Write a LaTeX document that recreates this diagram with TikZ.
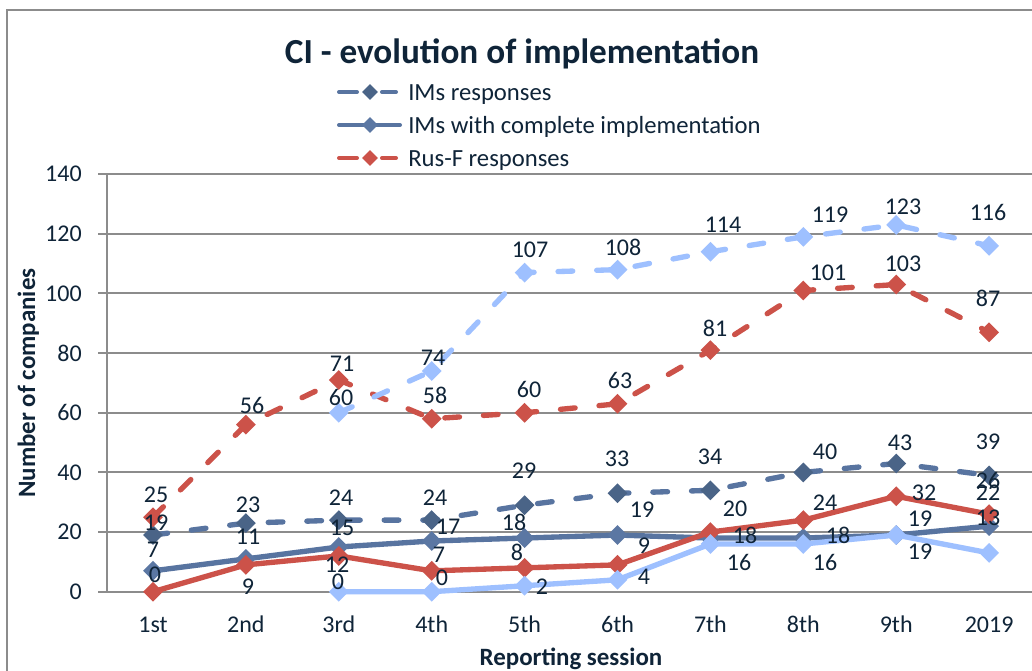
\documentclass[tikz,border=0pt]{standalone}
\usepackage{fontspec}
\setmainfont{Carlito}
\usetikzlibrary{shapes.geometric}
\definecolor{txt}{HTML}{0F2438}
\definecolor{gridc}{HTML}{8C8C8C}
\definecolor{cDl}{HTML}{5874A0}
\definecolor{cDm}{HTML}{4A6487}
\definecolor{cSl}{HTML}{5874A0}
\definecolor{cSm}{HTML}{5B77A3}
\definecolor{cR}{HTML}{CC5249}
\definecolor{cL}{HTML}{9EC0FF}
\tikzset{
  gridl/.style={draw=gridc, line width=1.5pt},
  frameline/.style={draw=gridc, line width=1.5pt},
  sln/.style={line width=4pt, line cap=round, line join=round},
  dln/.style={sln, dash pattern=on 11pt off 18pt},
  mk/.style={diamond, draw=none, minimum width=15pt, minimum height=15pt, inner sep=0pt},
  lmk/.style={diamond, draw=none, minimum width=12pt, minimum height=12pt, inner sep=0pt},
  lab/.style={text=txt, inner sep=0pt, font=\fontsize{18}{20}\selectfont},
  legtxt/.style={text=txt, inner sep=0pt, anchor=base west, font=\fontsize{18.5}{20}\selectfont},
  axtitle/.style={text=txt, inner sep=0pt, anchor=base, font=\bfseries\fontsize{18.7}{22}\selectfont},
  legln/.style={line width=3pt, line cap=round}
}
\begin{document}
\begin{tikzpicture}[x=0.75pt,y=-0.75pt]
\useasboundingbox (0,0) rectangle (1032,671);
\fill[white] (0,0) rectangle (1032,671);
% outer frame
\draw[frameline] (7,10) rectangle (1060,700);
% title
\node[text=txt, inner sep=0pt, anchor=base, font=\bfseries\fontsize{26.4}{30}\selectfont] (title) at (522,63) {CI - evolution of implementation};
% legend
\draw[legln, cDl] (339,92) -- (357,92) (382,92) -- (396,92);
\node[lmk, fill=cDm] (lg1) at (370,92) {};
\node[legtxt] (lt1) at (408,100) {IMs responses};
\draw[legln, cSl] (339,125) -- (400,125);
\node[lmk, fill=cSm] (lg2) at (370,125) {};
\node[legtxt] (lt2) at (408,133) {IMs with complete implementation};
\draw[legln, cR] (339,158) -- (357,158) (382,158) -- (396,158);
\node[lmk, fill=cR] (lg3) at (370,158) {};
\node[legtxt] (lt3) at (408,166) {Rus-F responses};
% grid and y axis
\foreach \k/\t in {0/0,1/20,2/40,3/60,4/80,5/100,6/120,7/140} {
  \draw[gridl] (98,{591.7-59.643*\k}) -- (1040,{591.7-59.643*\k});
  \node[lab, anchor=east] (yt\k) at (82,{591.7-59.643*\k}) {\t};
}
\draw[gridl] (106.5,174.2) -- (106.5,592.4);
% x tick labels
\foreach \t [count=\i] in {1st,2nd,3rd,4th,5th,6th,7th,8th,9th,2019}
  \node[lab, anchor=base] (xt\i) at ({153+92.9*(\i-1)},632) {\t};
% axis titles
\node[axtitle] (xtitle) at (571,665) {Reporting session};
\node[axtitle, rotate=90] (ytitle) at (35,383) {Number of companies};
% series coordinates
\foreach \v [count=\i] in {19,23,24,24,29,33,34,40,43,39}
  \coordinate (D\i) at ({153+92.9*(\i-1)},{591.7-2.9821*\v});
\foreach \v [count=\i] in {7,11,15,17,18,19,18,18,19,22}
  \coordinate (S\i) at ({153+92.9*(\i-1)},{591.7-2.9821*\v});
\foreach \v [count=\i] in {25,56,71,58,60,63,81,101,103,87}
  \coordinate (R\i) at ({153+92.9*(\i-1)},{591.7-2.9821*\v});
\foreach \v [count=\i from 3] in {60,74,107,108,114,119,123,116}
  \coordinate (L\i) at ({153+92.9*(\i-1)},{591.7-2.9821*\v});
\foreach \v [count=\i] in {0,9,12,7,8,9,20,24,32,26}
  \coordinate (r\i) at ({153+92.9*(\i-1)},{591.7-2.9821*\v});
\foreach \v [count=\i from 3] in {0,0,2,4,16,16,19,13}
  \coordinate (l\i) at ({153+92.9*(\i-1)},{591.7-2.9821*\v});
% IMs responses
\draw[dln, cDl] (D1) foreach \i in {2,...,10} {-- (D\i)};
\foreach \i in {1,...,10} \node[mk, fill=cDm] (mD\i) at (D\i) {};
% IMs complete
\draw[sln, cSl] (S1) foreach \i in {2,...,10} {-- (S\i)};
\foreach \i in {1,...,10} \node[mk, fill=cSm] (mS\i) at (S\i) {};
% Rus-F responses
\draw[dln, cR] (R1) foreach \i in {2,...,10} {-- (R\i)};
\foreach \i in {1,...,10} \node[mk, fill=cR] (mR\i) at (R\i) {};
% light blue dashed
\draw[dln, cL] (L3) foreach \i in {4,...,10} {-- (L\i)};
\foreach \i in {3,...,10} \node[mk, fill=cL] (mL\i) at (L\i) {};
% red solid
\draw[sln, cR] (r1) foreach \i in {2,...,10} {-- (r\i)};
\foreach \i in {1,...,10} \node[mk, fill=cR] (mr\i) at (r\i) {};
% light blue solid
\draw[sln, cL] (l3) foreach \i in {4,...,10} {-- (l\i)};
\foreach \i in {3,...,10} \node[mk, fill=cL] (ml\i) at (l\i) {};
% data labels
\foreach \x/\y/\t [count=\i] in {156/523/19,248/505/23,341/498/24,435/498/24,524/471/29,617/459/33,710/457/34,825/452/40,900/443/43,988/442/39}
  \node[lab] (tD\i) at (\x,\y) {\t};
\foreach \x/\y/\t [count=\i] in {153/550/7,248/537/11,342/528/15,448/527/17,514/522/18,642/510/19,745/535/18,838/535/18,920/519/19,988/493/22}
  \node[lab] (tS\i) at (\x,\y) {\t};
\foreach \x/\y/\t [count=\i] in {156/495/25,252/405/56,342/364/71,435/395/58,529/389/60,620/380/63,715/328/81,828/273/101,903/264/103,988/298/87}
  \node[lab] (tR\i) at (\x,\y) {\t};
\foreach \x/\y/\t [count=\i from 3] in {341/397/60,433/358/74,530/250/107,623/247/108,723/225/114,830/215/119,903/207/123,988/212/116}
  \node[lab] (tL\i) at (\x,\y) {\t};
\foreach \x/\y/\t [count=\i] in {155/575/0,248/587/9,337/565/12,439/555/7,517/552/8,644/546/9,735/509/20,825/503/24,924/493/32,988/480/26}
  \node[lab] (tr\i) at (\x,\y) {\t};
\foreach \x/\y/\t [count=\i from 3] in {338/582/0,442/578/0,542/587/2,644/577/4,739/562/16,825/562/16,920/552/19,988/518/13}
  \node[lab] (tl\i) at (\x,\y) {\t};
\end{tikzpicture}
\end{document}
